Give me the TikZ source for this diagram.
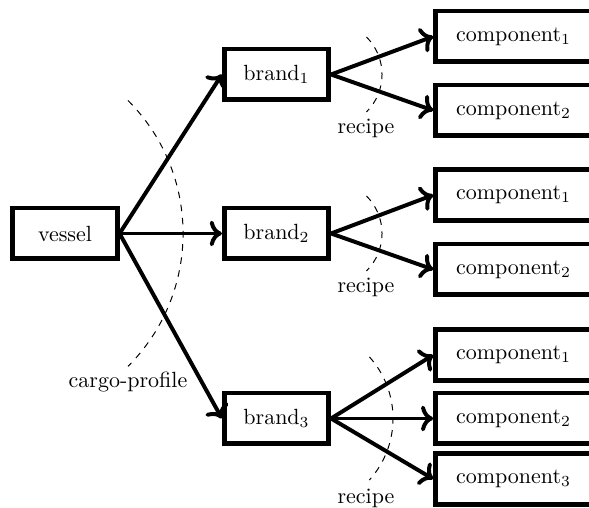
\documentclass[tikz,border=0pt]{standalone}
\usetikzlibrary{arrows.meta}
\begin{document}
\begin{tikzpicture}[x=0.4545pt,y=0.4545pt,
  box/.style={draw,line width=2.1pt,minimum width=47.5pt,minimum height=23pt,inner sep=0pt},
  cbox/.style={draw,line width=2.1pt,minimum width=70.9pt,minimum height=23pt,inner sep=0pt},
  link/.style={line width=1.8pt,->},
  arcline/.style={dashed,line width=0.45pt}]
\useasboundingbox (0,0) rectangle (589,508);
\node[box] (v) at (65,274.5) {vessel};
\node[box] (b1) at (276.5,433.5) {brand$_1$};
\node[box] (b2) at (276.5,274.5) {brand$_2$};
\node[box] (b3) at (276.5,89.5) {brand$_3$};
\node[cbox] (c11) at (513.5,471.5) {component$_1$};
\node[cbox] (c12) at (513.5,397.5) {component$_2$};
\node[cbox] (c21) at (513.5,313) {component$_1$};
\node[cbox] (c22) at (513.5,238.5) {component$_2$};
\node[cbox] (c31) at (513.5,153) {component$_1$};
\node[cbox] (c32) at (513.5,89.5) {component$_2$};
\node[cbox] (c33) at (513.5,29) {component$_3$};
\draw[link] (v.east) -- (b1.west);
\draw[link] (v.east) -- (b2.west);
\draw[link] (v.east) -- (b3.west);
\draw[link] (b1.east) -- (c11.west);
\draw[link] (b1.east) -- (c12.west);
\draw[link] (b2.east) -- (c21.west);
\draw[link] (b2.east) -- (c22.west);
\draw[link] (b3.east) -- (c31.west);
\draw[link] (b3.east) -- (c32.west);
\draw[link] (b3.east) -- (c33.west);
\coordinate (a0) at (128,407.5);
\coordinate (a1) at (366.5,471);
\coordinate (a2) at (366.5,312);
\coordinate (a3) at (369.4,151.1);
\draw[arcline] (a0) arc[start angle=45,end angle=-45,radius={188*0.4545pt}];
\draw[arcline] (a1) arc[start angle=45,end angle=-45,radius={53*0.4545pt}];
\draw[arcline] (a2) arc[start angle=45,end angle=-45,radius={53*0.4545pt}];
\draw[arcline] (a3) arc[start angle=42,end angle=-42,radius={92*0.4545pt}];
\node (l0) at (128,126) {cargo-profile};
\node (l1) at (366,380) {recipe};
\node (l2) at (366,221) {recipe};
\node (l3) at (366,10) {recipe};
\end{tikzpicture}
\end{document}
